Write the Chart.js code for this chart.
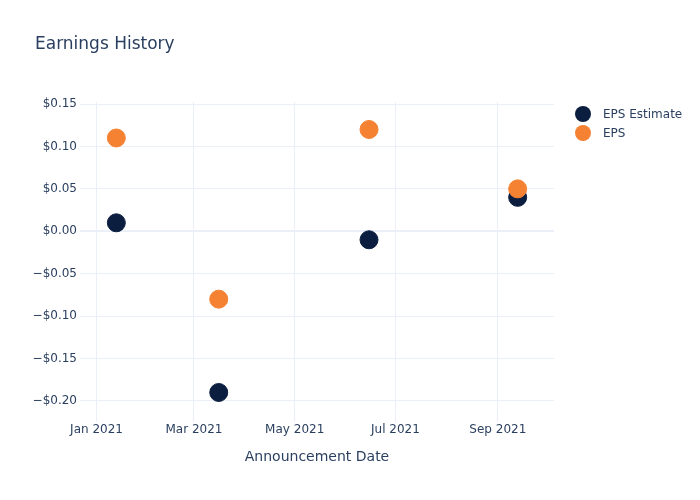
<!DOCTYPE html>
<html>
<head>
<meta charset="utf-8">
<script src="https://cdn.jsdelivr.net/npm/chart.js@4"></script>
<style>
  html, body { margin: 0; padding: 0; background: #fff; }
  #wrap { width: 700px; height: 500px; position: relative; }
</style>
</head>
<body>
<div id="wrap"><canvas id="myChart" width="700" height="500"></canvas></div>
<script>
// ---------------- data ----------------
var announceDates = ['2021-01-13', '2021-03-16', '2021-06-15', '2021-09-13'];
var epsEstimate = [0.01, -0.19, -0.01, 0.04];
var epsActual = [0.11, -0.08, 0.12, 0.05];
var xTickDates = ['2021-01-01', '2021-03-01', '2021-05-01', '2021-07-01', '2021-09-01'];
var xTickLabels = ['Jan 2021', 'Mar 2021', 'May 2021', 'Jul 2021', 'Sep 2021'];
var yTicks = [-0.20, -0.15, -0.10, -0.05, 0.00, 0.05, 0.10, 0.15];

var textColor = '#2a3f5f';
var gridColor = '#EBF0F8';
var fontFam = '"DejaVu Sans", Verdana, sans-serif';

function day(s) { return Date.parse(s + 'T00:00:00Z'); }

function money(v) {
  var s = '$' + Math.abs(v).toFixed(2);
  return v < -1e-9 ? '\u2212' + s : s;
}

function points(vals) {
  return announceDates.map(function (d, i) { return { x: day(d), y: vals[i] }; });
}

// title + legend drawn by hand, plotly style
var decor = {
  id: 'decor',
  afterDraw: function (chart) {
    var ctx = chart.ctx;
    ctx.save();
    ctx.fillStyle = textColor;
    ctx.font = '17px ' + fontFam;
    ctx.textBaseline = 'middle';
    ctx.textAlign = 'left';
    ctx.fillText('Earnings History', 35, 45);

    ctx.font = '12px ' + fontFam;
    chart.data.datasets.forEach(function (ds, i) {
      var y = 114 + i * 19;
      ctx.beginPath();
      ctx.arc(583, y, 8, 0, Math.PI * 2);
      ctx.fillStyle = ds.backgroundColor;
      ctx.fill();
      ctx.fillStyle = textColor;
      ctx.fillText(ds.label, 603, y + 1);
    });
    ctx.restore();
  }
};

var myChart = new Chart(document.getElementById('myChart'), {
  type: 'scatter',
  data: {
    datasets: [
      {
        label: 'EPS Estimate',
        data: points(epsEstimate),
        backgroundColor: '#0c1e3f',
        borderColor: '#0c1e3f',
        pointRadius: 9,
        pointHoverRadius: 9,
        order: 1
      },
      {
        label: 'EPS',
        data: points(epsActual),
        backgroundColor: '#f58233',
        borderColor: '#f58233',
        pointRadius: 9,
        pointHoverRadius: 9,
        order: 0
      }
    ]
  },
  options: {
    responsive: false,
    animation: false,
    layout: { padding: { left: 0, top: 102, right: 146, bottom: 0 } },
    plugins: {
      legend: { display: false },
      title: { display: false },
      tooltip: { enabled: false }
    },
    scales: {
      x: {
        type: 'linear',
        min: day('2020-12-22'),
        max: day('2021-10-05'),
        afterFit: function (s) { s.height = 78; },
        afterBuildTicks: function (s) {
          s.ticks = xTickDates.map(function (d) { return { value: day(d) }; });
        },
        ticks: {
          color: textColor,
          font: { family: fontFam, size: 12 },
          padding: 1,
          maxRotation: 0,
          autoSkip: false,
          callback: function (v) {
            var i = xTickDates.map(day).indexOf(v);
            return i >= 0 ? xTickLabels[i] : '';
          }
        },
        grid: { color: gridColor, lineWidth: 1, drawTicks: false },
        border: { display: false },
        title: {
          display: true,
          text: 'Announcement Date',
          color: textColor,
          font: { family: fontFam, size: 14 },
          padding: { top: 0, bottom: 34 }
        }
      },
      y: {
        min: -0.2248,
        max: 0.1524,
        afterFit: function (s) { s.width = 80; },
        afterBuildTicks: function (s) {
          s.ticks = yTicks.map(function (v) { return { value: v }; });
        },
        ticks: {
          color: textColor,
          font: { family: fontFam, size: 12 },
          padding: 3,
          callback: function (v) { return money(v); }
        },
        grid: {
          color: gridColor,
          drawTicks: false,
          lineWidth: function (c) { return Math.abs(c.tick.value) < 1e-9 ? 2 : 1; }
        },
        border: { display: false }
      }
    }
  },
  plugins: [decor]
});
</script>
</body>
</html>
